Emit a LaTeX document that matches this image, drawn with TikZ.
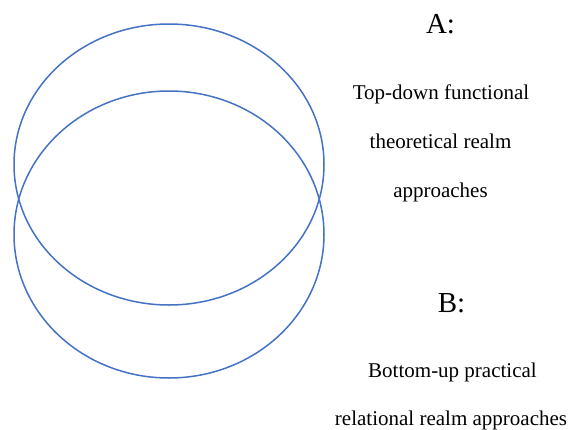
\documentclass[tikz,border=0pt]{standalone}
\usepackage{fontspec}
\setmainfont{Liberation Serif}
\usetikzlibrary{shapes.geometric}
\definecolor{realmblue}{RGB}{68,114,196}
\begin{document}
\begin{tikzpicture}[x=1pt, y=-1pt,
    realm/.style={draw=realmblue, line width=1.5pt, ellipse, inner sep=0pt, minimum width=310pt},
    letter/.style={anchor=base, font=\fontsize{29}{34}\selectfont},
    caption/.style={anchor=base, font=\fontsize{21}{25}\selectfont}]
    \useasboundingbox (0,0) rectangle (571,429);

    % Realms
    \node[realm, minimum height=281pt] (realmA) at (169,164.5) {};
    \node[realm, minimum height=287pt] (realmB) at (169,234.5) {};

    % A: top-down
    \node[letter] (labelA) at (440.5,33) {A:};
    \node[caption] (textA1) at (441,99) {Top-down functional};
    \node[caption] (textA2) at (440.5,148) {theoretical realm};
    \node[caption] (textA3) at (440.5,197) {approaches};

    % B: bottom-up
    \node[letter] (labelB) at (451.5,312) {B:};
    \node[caption] (textB1) at (452.5,377) {Bottom-up practical};
    \node[caption] (textB2) at (451,425) {relational realm approaches};
  \end{tikzpicture}
\end{document}
